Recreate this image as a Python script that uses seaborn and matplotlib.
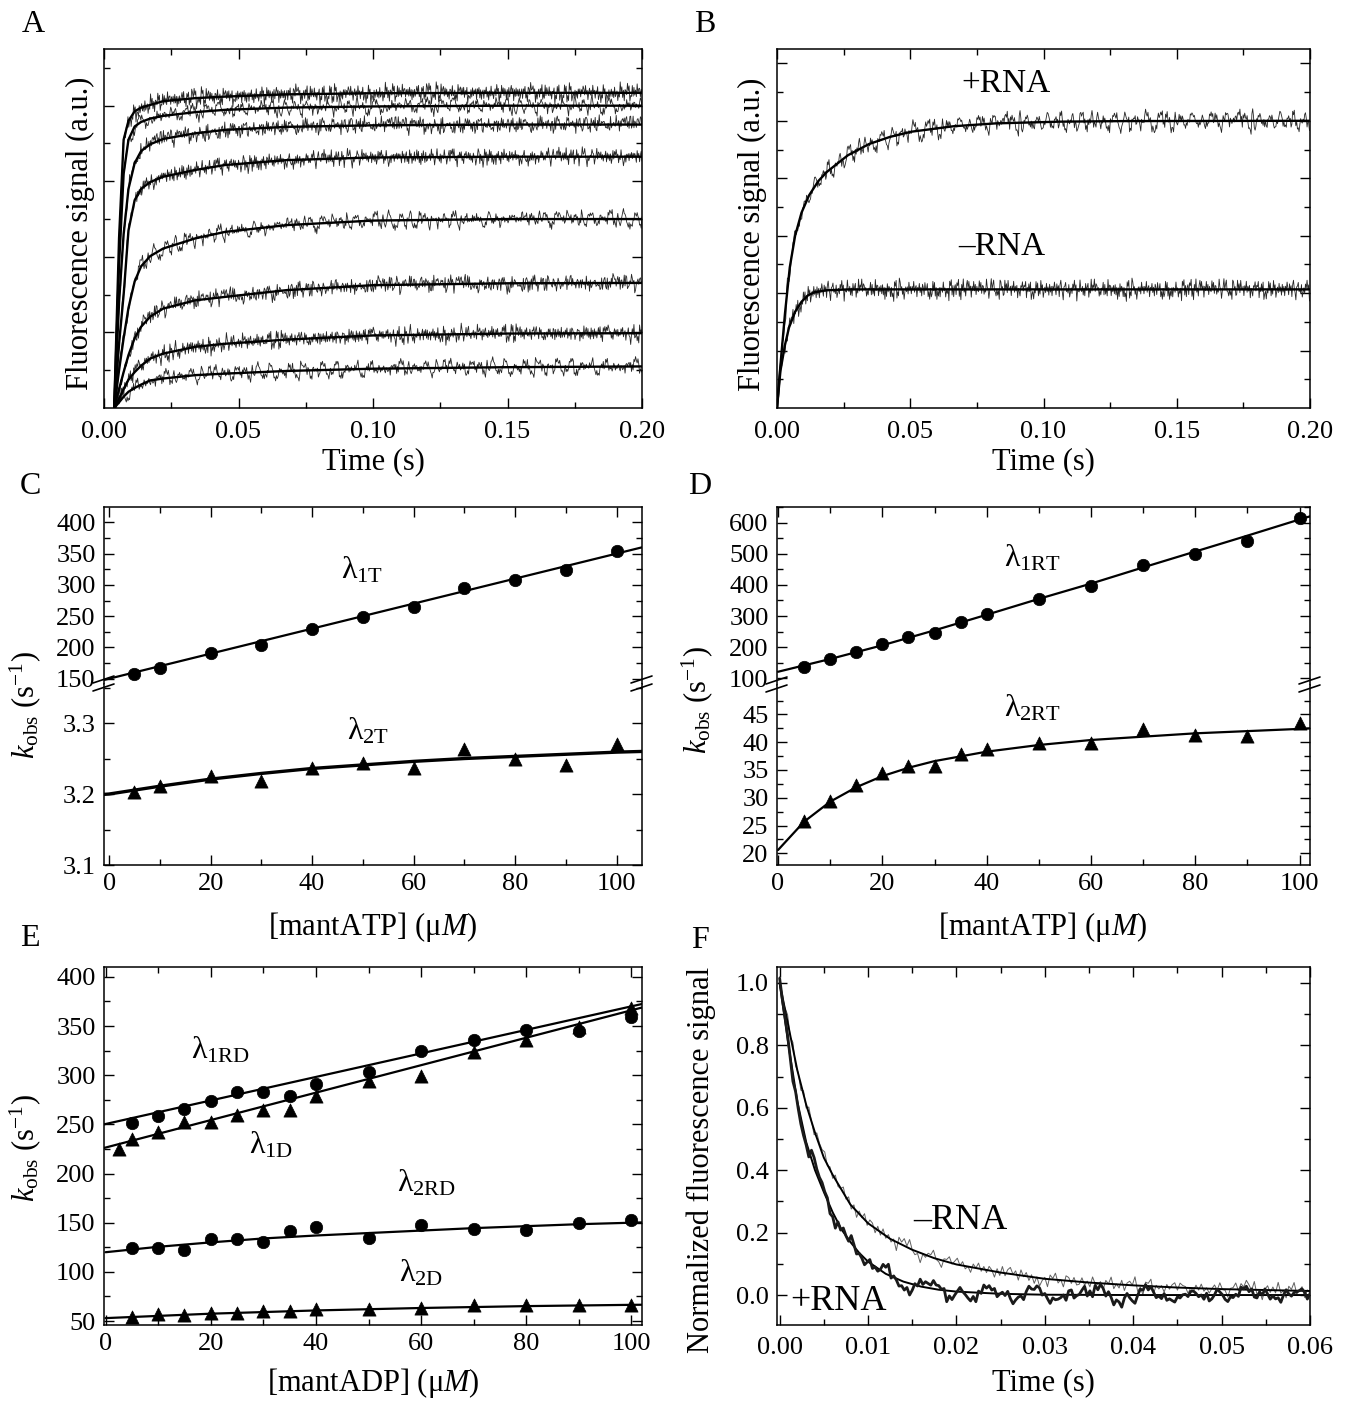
import numpy as np
import matplotlib
matplotlib.use("Agg")
import matplotlib.pyplot as plt
from matplotlib.lines import Line2D
from matplotlib.ticker import MultipleLocator, FixedLocator, NullFormatter
import seaborn as sns

sns.set_theme(style="ticks")
plt.rcParams.update({
    "font.family": ["Liberation Serif", "DejaVu Serif"],
    "mathtext.fontset": "custom",
    "mathtext.rm": "Liberation Serif",
    "mathtext.it": "Liberation Serif:italic",
    "mathtext.bf": "Liberation Serif:bold",
    "axes.linewidth": 1.1,
    "axes.edgecolor": "black",
    "axes.facecolor": "white",
    "text.color": "black",
    "xtick.color": "black",
    "ytick.color": "black",
})

# ---------------- data ----------------
# A : mantATP binding traces (fits read at these times, a.u.)
t_fit_a = [0.0038, 0.0056, 0.0073, 0.0091, 0.0114, 0.0138, 0.0172,
           0.022, 0.034, 0.045, 0.068, 0.10, 0.15, 0.20]
fit_a1 = [0, 4.5, 7.1, 7.6, 7.85, 7.95, 8.02, 8.12, 8.20, 8.24, 8.30, 8.33, 8.34, 8.34]
fit_a2 = [0, 3.8, 6.2, 7.1, 7.45, 7.57, 7.66, 7.73, 7.83, 7.89, 7.95, 7.98, 8.00, 8.00]
fit_a3 = [0, 2.8, 4.6, 5.8, 6.48, 6.80, 6.98, 7.12, 7.27, 7.36, 7.44, 7.48, 7.50, 7.50]
fit_a4 = [0, 1.7, 3.0, 4.7, 5.50, 5.80, 5.98, 6.12, 6.30, 6.43, 6.56, 6.63, 6.65, 6.65]
fit_a5 = [0, 1.0, 1.85, 2.65, 3.35, 3.75, 4.02, 4.22, 4.49, 4.66, 4.84, 4.96, 5.00, 5.00]
fit_a6 = [0, 0.5, 0.95, 1.4, 1.85, 2.15, 2.42, 2.63, 2.85, 2.94, 3.12, 3.25, 3.30, 3.31]
fit_a7 = [0, 0.25, 0.5, 0.75, 0.95, 1.12, 1.31, 1.44, 1.62, 1.70, 1.81, 1.92, 1.97, 1.98]
fit_a8 = [0, 0.15, 0.3, 0.43, 0.53, 0.62, 0.73, 0.78, 0.87, 0.91, 0.98, 1.04, 1.08, 1.10]
fits_a = [fit_a1, fit_a2, fit_a3, fit_a4, fit_a5, fit_a6, fit_a7, fit_a8]

# B : +RNA / -RNA traces
t_fit_b_plus = [0, 0.0013, 0.003, 0.0048, 0.0068, 0.0092, 0.012, 0.0155, 0.0187,
                0.0266, 0.0345, 0.0424, 0.0504, 0.0662, 0.082, 0.106, 0.13, 0.20]
fit_b_plus = [0, 1.5, 3.3, 4.9, 6.0, 6.8, 7.4, 7.9, 8.22,
              8.8, 9.19, 9.44, 9.62, 9.81, 9.91, 9.97, 9.99, 10.0]
t_fit_b_minus = [0, 0.0013, 0.003, 0.0045, 0.0068, 0.0092, 0.0116, 0.014, 0.0187, 0.027, 0.20]
fit_b_minus = [0, 1.3, 2.2, 2.8, 3.35, 3.7, 3.92, 4.03, 4.10, 4.13, 4.13]

# C : mantATP, no RNA
conc_c = [5, 10, 20, 30, 40, 50, 60, 70, 80, 90, 100]
lam_1t = [157.6, 167.7, 190.6, 203.4, 229.0, 249.2, 264.7, 295.6, 307.8, 323.8, 354.2]
lam_2t = [3.203, 3.212, 3.226, 3.218, 3.237, 3.243, 3.236, 3.263, 3.249, 3.241, 3.271]
fit_1t_x = [-1, 105]
fit_1t_y = [148, 360]
fit_2t_x = [-1, 0, 10, 20, 30, 40, 50, 60, 70, 80, 90, 100, 105]
fit_2t_y = [3.1995, 3.200, 3.211, 3.221, 3.229, 3.236, 3.241, 3.246, 3.250, 3.253, 3.256, 3.259, 3.260]

# D : mantATP, with RNA
conc_d = [5, 10, 15, 20, 25, 30, 35, 40, 50, 60, 70, 80, 90, 100]
lam_1rt = [137.5, 161.0, 185.7, 210.3, 233.8, 244.5, 280.9, 305.6, 354.8, 395.5, 465.1, 499.4, 540.0, 616.1]
lam_2rt = [25.75, 29.5, 32.25, 34.4, 35.65, 35.8, 37.8, 38.7, 39.85, 39.85, 42.3, 41.35, 41.1, 43.5]
fit_1rt_x = [0, 10, 20, 30, 40, 50, 60, 70, 80, 90, 100, 102]
fit_1rt_y = [121, 162, 206, 254, 304, 355, 404, 456, 507, 558, 610, 620]
fit_2rt_x = [0, 5, 10, 15, 20, 25, 30, 40, 50, 60, 70, 80, 90, 100, 102]
fit_2rt_y = [20.6, 25.7, 29.3, 31.9, 33.9, 35.4, 36.6, 38.3, 39.5, 40.4, 41.0, 41.6, 42.0, 42.4, 42.5]

# E : mantADP
conc_e = [5, 10, 15, 20, 25, 30, 35, 40, 50, 60, 70, 80, 90, 100]
conc_e_1d = [2.5, 5, 10, 15, 20, 25, 30, 35, 40, 50, 60, 70, 80, 90, 100]
lam_1rd = [251.0, 258.4, 265.6, 274.0, 282.5, 282.5, 278.8, 290.6, 302.8, 324.1, 335.3, 345.5, 345.1, 358.7]
lam_1d = [224.9, 234.7, 242.5, 252.0, 252.0, 259.5, 264.5, 264.5, 279.1, 294.0, 299.1, 323.5, 335.7, 349.0, 368.8]
lam_2rd = [124.7, 124.0, 122.3, 133.2, 133.2, 130.1, 141.6, 146.0, 134.2, 147.4, 143.3, 142.6, 149.4, 152.8]
lam_2d = [54.6, 57.0, 56.3, 58.7, 58.7, 60.3, 60.7, 62.7, 62.4, 63.7, 66.1, 66.8, 66.1, 66.1]
fit_1rd_x = [-0.3, 102]
fit_1rd_y = [250, 372.4]
fit_1d_x = [-0.3, 102]
fit_1d_y = [226, 368.8]
fit_2rd_x = [0, 10, 20, 30, 40, 50, 60, 70, 80, 90, 100, 102]
fit_2rd_y = [120, 125.5, 130, 134, 137, 139.5, 142, 144.5, 146.5, 148.5, 150, 150.3]
fit_2d_x = [0, 20, 40, 60, 80, 100, 102]
fit_2d_y = [53, 57.5, 60.8, 63.3, 65.2, 66.5, 66.6]

# F : chase traces, normalized
t_fit_f_minus = [0, 0.001, 0.002, 0.003, 0.004, 0.005, 0.006, 0.008, 0.010, 0.0125, 0.015,
                 0.0175, 0.02, 0.025, 0.03, 0.035, 0.04, 0.045, 0.05, 0.06]
fit_f_minus = [1.0, 0.86, 0.72, 0.61, 0.52, 0.44, 0.385, 0.29, 0.23, 0.18, 0.145,
               0.118, 0.098, 0.072, 0.052, 0.040, 0.031, 0.024, 0.019, 0.013]
t_fit_f_plus = [0, 0.001, 0.002, 0.003, 0.004, 0.005, 0.006, 0.007, 0.008, 0.009, 0.010,
                0.012, 0.014, 0.016, 0.018, 0.02, 0.025, 0.03, 0.04, 0.06]
fit_f_plus = [1.0, 0.80, 0.62, 0.49, 0.40, 0.33, 0.265, 0.21, 0.17, 0.135, 0.107,
              0.068, 0.043, 0.027, 0.017, 0.011, 0.004, 0.001, 0.0, 0.0]

# residual pattern of the raw stopped-flow records (relative units)
jitter = [0.31, -0.52, 0.84, -0.12, 0.45, -0.91, 0.07, 0.63, -0.38, 0.22, -0.67, 0.95,
          -0.05, 0.41, -0.74, 0.18, -0.29, 0.77, -0.58, 0.02, 0.56, -0.83, 0.34, -0.16,
          0.69, -0.44, 0.11, -0.97, 0.48, 0.26, -0.61, 0.88, -0.23, -0.07, 0.59, -0.49,
          0.15, -0.81, 0.72, -0.33, 0.04, 0.51, -0.66, 0.37, -0.14, 0.93, -0.55, 0.21,
          -0.39, 0.66, -0.88, 0.28, 0.09, -0.47, 0.81, -0.26, 0.43, -0.71, 0.13, -0.03,
          0.62, -0.94, 0.35, -0.19, 0.54, -0.42, 0.76, -0.63, 0.06, 0.39, -0.85, 0.24,
          -0.11, 0.67, -0.36, 0.49, -0.78, 0.17, -0.57, 0.86, -0.21, 0.32, -0.69, 0.01,
          0.58, -0.45, 0.71, -0.31, 0.14, -0.89, 0.46, -0.08, 0.64, -0.53, 0.27, -0.24, 0.79]

# ---------------- helpers ----------------
W, H = 1346, 1411
fig = plt.figure(figsize=(W / 100, H / 100), dpi=100, facecolor="white")


def rect(l, t, r, b):
    return [l / W, 1 - b / H, (r - l) / W, (b - t) / H]


def raw_trace(t_raw, t_fit, v_fit, amp, offset, stride):
    base = np.interp(t_raw, t_fit, v_fit)
    j = np.asarray(jitter)
    i = np.arange(len(t_raw))
    res = (0.7 * j[(i * stride + offset) % len(j)]
           + 0.5 * j[(i // 3 * (stride + 2) + 3 * offset) % len(j)])
    return base + amp * res


def style(ax, xmaj, xmin, ymaj=None, ymin=None, bottom=True, top=True, size=19):
    ax.xaxis.set_major_locator(MultipleLocator(xmaj))
    ax.xaxis.set_minor_locator(MultipleLocator(xmin))
    if ymaj is not None:
        ax.yaxis.set_major_locator(ymaj)
        ax.yaxis.set_minor_locator(ymin)
    ax.tick_params(which="both", direction="in", top=top, bottom=bottom,
                   left=True, right=True, width=1.0, labelsize=size, pad=6)
    ax.tick_params(which="major", length=7)
    ax.tick_params(which="minor", length=4)
    for s in ax.spines.values():
        s.set_linewidth(1.1)
        s.set_color("black")
    ax.grid(False)


def line(ax, x, y, lw=1.6, color="black", z=2):
    sns.lineplot(x=x, y=y, ax=ax, color=color, linewidth=lw, estimator=None,
                 sort=False, legend=False, zorder=z)


def pts(ax, x, y, marker, s):
    sns.scatterplot(x=x, y=y, ax=ax, marker=marker, s=s, color="black",
                    edgecolor="black", linewidth=0.5, legend=False, zorder=4)


def break_marks(xl, xr, yb):
    for x in (xl, xr):
        for g in (-4, 4):
            fig.add_artist(Line2D([(x - 11) / W, (x + 10) / W],
                                  [1 - (yb + g + 3) / H, 1 - (yb + g - 4) / H],
                                  color="black", lw=1.2))


LBL = 22
RAW = "#262626"

# ---------------- A ----------------
axA = fig.add_axes(rect(104, 49, 642, 408))
t_raw_a = np.arange(0.0038, 0.2, 0.0003)
for k, f in enumerate(fits_a):
    line(axA, t_raw_a, raw_trace(t_raw_a, t_fit_a, f, 0.26, 11 * k, 1 + (k % 3)),
         lw=0.6, color=RAW, z=1)
for f in fits_a:
    line(axA, t_fit_a, f, lw=1.7)
axA.set_xlim(0, 0.2)
axA.set_ylim(0, 9.5)
style(axA, 0.05, 0.025, FixedLocator([2, 4, 6, 8]), FixedLocator([1, 3, 5, 7, 9]))
axA.yaxis.set_major_formatter(NullFormatter())
axA.xaxis.set_major_formatter(lambda v, p: f"{v:.2f}")
axA.tick_params(axis="x", pad=9)
axA.set_xlabel("")
axA.set_ylabel("")
fig.text(80 / W, 1 - 233 / H, "Fluorescence signal (a.u.)", rotation=90,
         ha="center", va="center", fontsize=LBL)
fig.text(373 / W, 1 - 462 / H, "Time (s)", ha="center", va="center", fontsize=LBL)

# ---------------- B ----------------
axB = fig.add_axes(rect(777, 49, 1310, 408))
t_raw_b = np.arange(0.0, 0.2, 0.0003)
line(axB, t_raw_b, raw_trace(t_raw_b, t_fit_b_plus, fit_b_plus, 0.4, 5, 2),
     lw=0.6, color=RAW, z=1)
line(axB, t_raw_b, raw_trace(t_raw_b, t_fit_b_minus, fit_b_minus, 0.4, 40, 1),
     lw=0.6, color=RAW, z=1)
line(axB, t_fit_b_plus, fit_b_plus, lw=1.7)
line(axB, t_fit_b_minus, fit_b_minus, lw=1.7)
axB.set_xlim(0, 0.2)
axB.set_ylim(0, 12.5)
style(axB, 0.05, 0.025, FixedLocator([2, 4, 6, 8, 10, 12]), FixedLocator([1, 3, 5, 7, 9, 11]))
axB.yaxis.set_major_formatter(NullFormatter())
axB.xaxis.set_major_formatter(lambda v, p: f"{v:.2f}")
axB.tick_params(axis="x", pad=9)
axB.set_xlabel("")
axB.set_ylabel("")
axB.text(0.086, 11.3, "+RNA", ha="center", va="center", fontsize=24)
axB.text(0.0844, 5.6, "\u2013RNA", ha="center", va="center", fontsize=24)
fig.text(752 / W, 1 - 234 / H, "Fluorescence signal (a.u.)", rotation=90,
         ha="center", va="center", fontsize=LBL)
fig.text(1043 / W, 1 - 462 / H, "Time (s)", ha="center", va="center", fontsize=LBL)

# ---------------- C ----------------
axCt = fig.add_axes(rect(104, 507, 642, 684))
axCb = fig.add_axes(rect(104, 684, 642, 865))
line(axCt, fit_1t_x, fit_1t_y, lw=1.6)
pts(axCt, conc_c, lam_1t, "o", 80)
line(axCb, fit_2t_x, fit_2t_y, lw=2.4)
pts(axCb, conc_c, lam_2t, "^", 90)
for ax in (axCt, axCb):
    ax.set_xlim(-1, 105)
    ax.set_xlabel("")
    ax.set_ylabel("")
axCt.set_ylim(141.5, 424.5)
axCb.set_ylim(3.1, 3.355)
style(axCt, 20, 10, MultipleLocator(50), MultipleLocator(25), bottom=False)
style(axCb, 20, 10, MultipleLocator(0.1), MultipleLocator(0.05), top=False)
axCt.spines["bottom"].set_visible(False)
axCb.spines["top"].set_visible(False)
axCt.tick_params(axis="x", labelbottom=False)
axCb.yaxis.set_major_formatter(lambda v, p: f"{v:.1f}")
axCt.text(49.8, 323.8, r"λ$_{\mathrm{1T}}$", ha="center", va="center", fontsize=23)
axCb.text(51, 3.288, r"λ$_{\mathrm{2T}}$", ha="center", va="center", fontsize=23)
break_marks(104, 642, 684)
fig.text(25 / W, 1 - 705 / H, r"$k_{\mathrm{obs}}$ (s$^{-1}$)", rotation=90,
         ha="center", va="center", fontsize=LBL)
fig.text(373 / W, 1 - 927 / H, r"[mantATP] (μ$M$)", ha="center", va="center", fontsize=LBL)

# ---------------- D ----------------
axDt = fig.add_axes(rect(777, 507, 1310, 685))
axDb = fig.add_axes(rect(777, 685, 1310, 865))
line(axDt, fit_1rt_x, fit_1rt_y, lw=1.6)
pts(axDt, conc_d, lam_1rt, "o", 80)
line(axDb, fit_2rt_x, fit_2rt_y, lw=1.6)
pts(axDb, conc_d, lam_2rt, "^", 90)
for ax in (axDt, axDb):
    ax.set_xlim(-0.2, 102)
    ax.set_xlabel("")
    ax.set_ylabel("")
axDt.set_ylim(78.5, 650)
axDb.set_ylim(17.9, 50.3)
style(axDt, 20, 10, MultipleLocator(100), MultipleLocator(50), bottom=False)
style(axDb, 20, 10, FixedLocator([20, 25, 30, 35, 40, 45]),
      FixedLocator([22.5, 27.5, 32.5, 37.5, 42.5, 47.5]), top=False)
axDt.spines["bottom"].set_visible(False)
axDb.spines["top"].set_visible(False)
axDt.tick_params(axis="x", labelbottom=False)
axDt.text(48.8, 485, r"λ$_{\mathrm{1RT}}$", ha="center", va="center", fontsize=23)
axDb.text(48.8, 46.1, r"λ$_{\mathrm{2RT}}$", ha="center", va="center", fontsize=23)
break_marks(777, 1310, 685)
fig.text(697 / W, 1 - 700 / H, r"$k_{\mathrm{obs}}$ (s$^{-1}$)", rotation=90,
         ha="center", va="center", fontsize=LBL)
fig.text(1043 / W, 1 - 927 / H, r"[mantATP] (μ$M$)", ha="center", va="center", fontsize=LBL)

# ---------------- E ----------------
axE = fig.add_axes(rect(104, 967, 642, 1325))
line(axE, fit_1rd_x, fit_1rd_y, lw=1.6)
line(axE, fit_1d_x, fit_1d_y, lw=1.6)
line(axE, fit_2rd_x, fit_2rd_y, lw=1.6)
line(axE, fit_2d_x, fit_2d_y, lw=1.6)
pts(axE, conc_e, lam_1rd, "o", 80)
pts(axE, conc_e_1d, lam_1d, "^", 90)
pts(axE, conc_e, lam_2rd, "o", 80)
pts(axE, conc_e, lam_2d, "^", 90)
axE.set_xlim(-0.3, 102)
axE.set_ylim(46, 410)
axE.set_xlabel("")
axE.set_ylabel("")
style(axE, 20, 10, MultipleLocator(50), MultipleLocator(25))
axE.text(21.9, 325, r"λ$_{\mathrm{1RD}}$", ha="center", va="center", fontsize=23)
axE.text(31.5, 229, r"λ$_{\mathrm{1D}}$", ha="center", va="center", fontsize=23)
axE.text(61, 190, r"λ$_{\mathrm{2RD}}$", ha="center", va="center", fontsize=23)
axE.text(60, 99, r"λ$_{\mathrm{2D}}$", ha="center", va="center", fontsize=23)
fig.text(25 / W, 1 - 1148 / H, r"$k_{\mathrm{obs}}$ (s$^{-1}$)", rotation=90,
         ha="center", va="center", fontsize=LBL)
fig.text(373 / W, 1 - 1383 / H, r"[mantADP] (μ$M$)", ha="center", va="center", fontsize=LBL)

# ---------------- F ----------------
axF = fig.add_axes(rect(777, 967, 1310, 1325))
t_raw_f = np.arange(0.0, 0.0601, 0.0003)
line(axF, t_raw_f, raw_trace(t_raw_f, t_fit_f_minus, fit_f_minus, 0.03, 17, 1),
     lw=0.7, color="#606060", z=1)
line(axF, t_fit_f_minus, fit_f_minus, lw=1.4)
line(axF, t_fit_f_plus, fit_f_plus, lw=1.4)
line(axF, t_raw_f, raw_trace(t_raw_f, t_fit_f_plus, fit_f_plus, 0.034, 60, 2),
     lw=2.0, color="#1a1a1a", z=3)
axF.set_xlim(-0.0003, 0.06)
axF.set_ylim(-0.096, 1.051)
axF.set_xlabel("")
axF.set_ylabel("")
style(axF, 0.01, 0.005, MultipleLocator(0.2), MultipleLocator(0.1))
axF.xaxis.set_major_formatter(lambda v, p: f"{v:.2f}")
axF.yaxis.set_major_formatter(lambda v, p: f"{v:.1f}")
axF.tick_params(axis="x", pad=9)
axF.text(0.0205, 0.24, "\u2013RNA", ha="center", va="center", fontsize=26)
axF.text(0.0067, -0.02, "+RNA", ha="center", va="center", fontsize=26)
fig.text(701 / W, 1 - 1160 / H, "Normalized fluorescence signal", rotation=90,
         ha="center", va="center", fontsize=LBL)
fig.text(1043 / W, 1 - 1383 / H, "Time (s)", ha="center", va="center", fontsize=LBL)

# ---------------- panel letters ----------------
for letter, (px, py) in {"A": (33, 25), "B": (705, 24), "C": (30, 486),
                         "D": (700, 486), "E": (30, 938), "F": (700, 940)}.items():
    fig.text(px / W, 1 - py / H, letter, ha="center", va="center", fontsize=23)

fig.savefig("out.png", dpi=100, facecolor="white")
